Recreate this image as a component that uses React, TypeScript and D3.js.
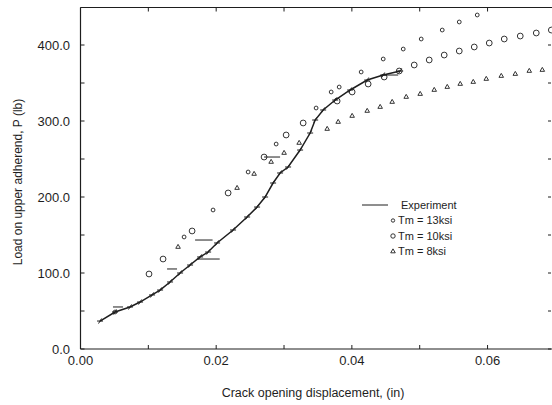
import React from "react";
import * as d3 from "d3";

// Experiment trace (crack opening displacement in, load lb)
const expX = [0.00288, 0.00509, 0.0073, 0.00878, 0.01055, 0.01173, 0.0132, 0.01468, 0.01615, 0.01763, 0.01881, 0.02013, 0.02249, 0.02456, 0.02603, 0.02721, 0.02839, 0.02942, 0.0306, 0.03237, 0.03385, 0.03459, 0.03577, 0.03754, 0.03975, 0.04226, 0.04462, 0.04712];
const expY = [36.8, 48.7, 55.3, 61.8, 71.1, 77.6, 88.2, 100.0, 110.5, 121.1, 127.6, 139.5, 156.6, 173.7, 186.8, 200.0, 218.4, 231.6, 239.5, 261.8, 284.2, 301.3, 314.5, 327.6, 340.8, 353.9, 360.5, 365.8];
// longer horizontal experiment dashes: [x start, x end, load]
const expDashX1 = [0.00479, 0.01276, 0.01689, 0.01718, 0.02706, 0.04462];
const expDashX2 = [0.00627, 0.01423, 0.01947, 0.02052, 0.02942, 0.04683];
const expDashY = [55.3, 105.3, 143.4, 118.4, 252.6, 360.5];

// Tm = 13ksi
const t13X = [0.00509, 0.01527, 0.01954, 0.02471, 0.02884, 0.03473, 0.03695, 0.03813, 0.04137, 0.04462, 0.04757, 0.05022, 0.05332, 0.05583, 0.05848];
const t13Y = [48.7, 147.4, 182.9, 232.9, 269.7, 317.1, 338.2, 344.7, 364.5, 381.6, 394.7, 407.9, 419.7, 430.3, 439.5];
// Tm = 10ksi
const t10X = [0.0101, 0.01217, 0.01645, 0.02176, 0.02706, 0.03031, 0.03282, 0.03783, 0.04004, 0.0424, 0.04476, 0.04698, 0.04919, 0.0514, 0.05361, 0.05583, 0.05804, 0.06025, 0.06246, 0.06482, 0.06718, 0.0694];
const t10Y = [98.7, 118.4, 155.3, 205.3, 252.6, 281.6, 297.4, 326.3, 338.2, 348.7, 357.9, 365.8, 373.7, 380.3, 386.8, 392.1, 397.4, 402.6, 407.9, 411.8, 415.8, 419.7];
// Tm = 8ksi
const t8X = [0.01438, 0.02308, 0.02559, 0.0281, 0.03001, 0.03223, 0.03636, 0.03798, 0.04004, 0.04226, 0.04417, 0.04594, 0.04801, 0.05007, 0.05214, 0.05406, 0.05597, 0.05789, 0.05981, 0.06202, 0.06409, 0.06615, 0.06807];
const t8Y = [134.2, 211.8, 230.3, 246.1, 257.9, 271.1, 289.5, 298.7, 306.6, 313.2, 318.4, 325.0, 331.6, 335.5, 340.8, 344.7, 348.7, 351.3, 355.3, 359.2, 361.8, 365.8, 367.1];

const xTickLabels = ["0.00", "0.02", "0.04", "0.06"];
const xTickVals = [0, 0.02, 0.04, 0.06];
const xMinorVals = [0.01, 0.03, 0.05];
const yTickLabels = ["0.0", "100.0", "200.0", "300.0", "400.0"];
const yTickVals = [0, 100, 200, 300, 400];
const yMinorVals = [50, 150, 250, 350];
const legendLabels = ["Experiment", "Tm = 13ksi", "Tm = 10ksi", "Tm = 8ksi"];

const INK = "#1e1e1e";
const FONT = "'Liberation Sans', Arial, Helvetica, sans-serif";

export default function App() {
  const W = 552, H = 405;
  const left = 80.5, right = 552, top = 7.5, bottom = 349;
  const x = d3.scaleLinear().domain([0, 0.0695]).range([left, right]);
  const y = d3.scaleLinear().domain([0, 448.7]).range([bottom, top + 0.5]);

  const line = d3.line<number>().x((_, i) => x(expX[i])).y((_, i) => y(expY[i]));
  const linePath = line(expX) || "";

  const tri = d3.symbol().type(d3.symbolTriangle).size(9)() || "";
  const legY = [205, 220.5, 236, 251.5];

  return (
    <svg width={W} height={H} style={{ display: "block", position: "absolute", left: 0, top: 0, background: "#fff" }}>
      <rect x={0} y={0} width={W} height={H} fill="#fff" />
      {/* axes */}
      <g stroke={INK} strokeWidth={1.2} fill="none">
        <line x1={left} y1={top} x2={left} y2={bottom} />
        <line x1={left} y1={bottom} x2={right} y2={bottom} />
        <line x1={left} y1={top} x2={right} y2={top} strokeWidth={1} />
      </g>
      <g stroke={INK} strokeWidth={1}>
        {xTickVals.concat(xMinorVals).map((v, i) => (
          <g key={"xt" + i}>
            <line x1={x(v)} x2={x(v)} y1={bottom} y2={bottom - 4} />
            <line x1={x(v)} x2={x(v)} y1={top} y2={top + 4} />
          </g>
        ))}
        {yTickVals.concat(yMinorVals).map((v, i) => (
          <g key={"yt" + i}>
            <line x1={left} x2={left + 4} y1={y(v)} y2={y(v)} />
            <line x1={right - 1} x2={right - 4} y1={y(v)} y2={y(v)} />
          </g>
        ))}
      </g>
      <g fill={INK} fontFamily={FONT} fontSize={13}>
        {xTickVals.map((v, i) => (
          <text key={"xl" + i} x={x(v)} y={365} textAnchor="middle">{xTickLabels[i]}</text>
        ))}
        {yTickVals.map((v, i) => (
          <text key={"yl" + i} x={70} y={y(v)} dy="0.35em" textAnchor="end">{yTickLabels[i]}</text>
        ))}
      </g>
      <text x={313} y={397} textAnchor="middle" fontFamily={FONT} fontSize={12.5} fill={INK}>
        Crack opening displacement, (in)
      </text>
      <text transform={`translate(22,182) rotate(-90)`} textAnchor="middle" fontFamily={FONT} fontSize={12} fill={INK}>
        Load on upper adherend, P (lb)
      </text>

      {/* experiment */}
      <path d={linePath} fill="none" stroke={INK} strokeWidth={1.5} />
      <g stroke={INK} strokeWidth={1}>
        {expX.map((v, i) => (
          <g key={"ed" + i}>
            <line x1={x(v) - 3} x2={x(v) + 3} y1={y(expY[i])} y2={y(expY[i])} />
            <line x1={x(v) - 1.5} x2={x(v) + 1.5} y1={y(expY[i]) + 2.5} y2={y(expY[i]) - 2.5} />
          </g>
        ))}
        {expDashX1.map((v, i) => (
          <line key={"el" + i} x1={x(v)} x2={x(expDashX2[i])} y1={y(expDashY[i])} y2={y(expDashY[i])} />
        ))}
      </g>
      <g fill="none" stroke={INK} strokeWidth={0.9}>
        {t13X.map((v, i) => (
          <circle key={"a" + i} cx={x(v)} cy={y(t13Y[i])} r={1.9} />
        ))}
        {t10X.map((v, i) => (
          <circle key={"b" + i} cx={x(v)} cy={y(t10Y[i])} r={2.9} />
        ))}
        {t8X.map((v, i) => (
          <path key={"c" + i} d={tri} transform={`translate(${x(v)},${y(t8Y[i])})`} />
        ))}
      </g>

      {/* legend */}
      <g fontFamily={FONT} fontSize={11} fill={INK}>
        <line x1={362} x2={388} y1={legY[0]} y2={legY[0]} stroke={INK} strokeWidth={1} />
        <circle cx={393} cy={legY[1]} r={1.7} fill="none" stroke={INK} strokeWidth={0.9} />
        <circle cx={393} cy={legY[2]} r={2.2} fill="none" stroke={INK} strokeWidth={0.9} />
        <path d={tri} transform={`translate(393,${legY[3]})`} fill="none" stroke={INK} strokeWidth={0.9} />
        {legendLabels.map((t, i) => (
          <text key={"lg" + i} x={i === 0 ? 401 : 398} y={legY[i]} dy="0.35em">{t}</text>
        ))}
      </g>
    </svg>
  );
}
